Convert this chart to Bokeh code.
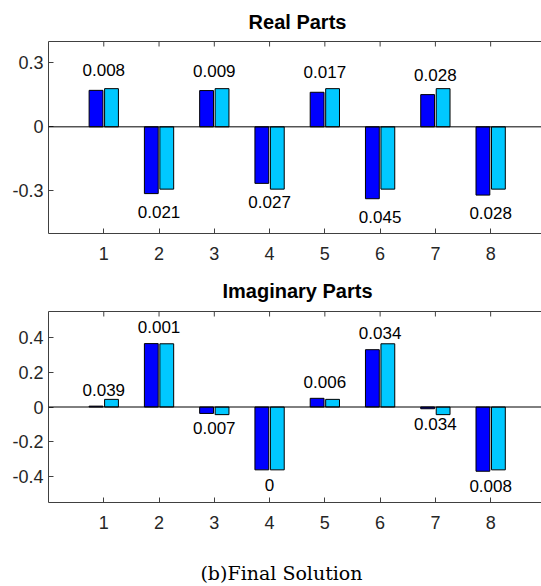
import numpy as np
from bokeh.plotting import figure
from bokeh.layouts import column
from bokeh.models import LinearAxis, Span, FixedTicker
from bokeh.core.properties import value
from bokeh.embed import file_html
from bokeh.resources import INLINE

groups = [1, 2, 3, 4, 5, 6, 7, 8]

real_est = [0.171, -0.313, 0.170, -0.265, 0.162, -0.337, 0.151, -0.320]
real_true = [0.179, -0.292, 0.179, -0.292, 0.179, -0.292, 0.179, -0.292]
real_labels = ["0.008", "0.021", "0.009", "0.027", "0.017", "0.045", "0.028", "0.028"]
real_yticks = [-0.3, 0, 0.3]
real_yticklabels = ["-0.3", "0", "0.3"]

imag_est = [0.005, 0.365, -0.037, -0.362, 0.050, 0.330, -0.010, -0.370]
imag_true = [0.044, 0.364, -0.044, -0.362, 0.044, 0.364, -0.044, -0.362]
imag_labels = ["0.039", "0.001", "0.007", "0", "0.006", "0.034", "0.034", "0.008"]
imag_yticks = [-0.4, -0.2, 0, 0.2, 0.4]
imag_yticklabels = ["-0.4", "-0.2", "0", "0.2", "0.4"]

titles = ["Real Parts", "Imaginary Parts"]
caption = "(b)Final Solution"

FONT = "Liberation Sans"
AXC = "#404040"
BLUE = "#0000FF"
CYAN = "#00C8FF"
TICK_PX = 5
W = 541
LEFT = 48


def text_strip(text, height, y, font, size, style="normal", x=297):
    # x range in page pixels over the (left-aligned) frame
    f = figure(frame_width=W - LEFT, frame_height=height, x_range=(LEFT, W), y_range=(0, height),
               output_backend="svg", toolbar_location=None,
               min_border_left=LEFT, min_border_right=0, min_border_top=0, min_border_bottom=0,
               x_axis_location=None, y_axis_location=None)
    f.outline_line_color = None
    f.xgrid.visible = False
    f.ygrid.visible = False
    f.text(x=[x], y=[y], text=[text], text_align="center", text_baseline="middle",
           text_font=value(font), text_font_size=value(size), text_font_style=value(style),
           text_color="black")
    return f


def make_panel(est, true, labels, yticks, yticklabels, yr, frame_h):
    p = figure(frame_width=W - LEFT, frame_height=frame_h, x_range=(0, 8.92), y_range=yr,
               output_backend="svg", toolbar_location=None,
               min_border_left=LEFT, min_border_right=0, min_border_top=4,
               min_border_bottom=36, x_axis_location=None, y_axis_location=None)
    p.outline_line_color = None
    p.xgrid.visible = False
    p.ygrid.visible = False
    p.background_fill_color = "white"
    p.border_fill_color = "white"

    ax_b = LinearAxis(ticker=FixedTicker(ticks=groups))
    ax_t = LinearAxis(ticker=FixedTicker(ticks=[]))
    ax_l = LinearAxis(ticker=FixedTicker(ticks=yticks))
    ax_l.major_label_overrides = {t: l for t, l in zip(yticks, yticklabels)}
    for ax in (ax_b, ax_t, ax_l):
        ax.axis_line_color = AXC
        ax.axis_line_width = 1
        ax.major_tick_line_color = AXC
        ax.major_tick_in = TICK_PX
        ax.major_tick_out = 0
        ax.minor_tick_line_color = None
        ax.major_label_text_font = FONT
        ax.major_label_text_font_size = "18px"
        ax.major_label_text_color = "#262626"
    ax_b.major_label_standoff = 13
    ax_l.major_label_standoff = 5
    ax_t.major_label_standoff = 0
    p.add_layout(ax_b, "below")
    p.add_layout(ax_l, "left")
    p.add_layout(ax_t, "above")

    ytop = yr[1]
    dy = (yr[1] - yr[0]) / frame_h * TICK_PX
    p.segment(x0=groups, y0=[ytop] * len(groups), x1=groups, y1=[ytop - dy] * len(groups),
              line_color=AXC, line_width=1)

    x = np.array(groups, dtype=float)
    est = np.array(est)
    true = np.array(true)
    p.vbar(x=x - 0.14, top=est, bottom=0, width=0.25, fill_color=BLUE,
           line_color="black", line_width=1)
    p.vbar(x=x + 0.14, top=true, bottom=0, width=0.25, fill_color=CYAN,
           line_color="black", line_width=1)
    p.add_layout(Span(location=0, dimension="width", line_color="black", line_width=1))

    ly = np.where(est >= 0, est + 0.094, est - 0.086)
    p.text(x=x, y=ly, text=labels, text_align="center", text_baseline="middle",
           text_font=value(FONT), text_font_size="17px", text_color="black")
    return p


t1 = text_strip(titles[0], 37, 16, FONT, "20px", "bold")
p1 = make_panel(real_est, real_true, real_labels,
                real_yticks, real_yticklabels, (-0.5, 0.4), 192)
t2 = text_strip(titles[1], 38, 17, FONT, "20px", "bold")
p2 = make_panel(imag_est, imag_true, imag_labels,
                imag_yticks, imag_yticklabels, (-0.55, 0.55), 191)
p3 = text_strip(caption, 48, 14, "DejaVu Serif", "19px", x=281)

layout = column(t1, p1, t2, p2, p3, spacing=0)

with open("out.html", "w") as f:
    f.write(file_html(layout, INLINE))
